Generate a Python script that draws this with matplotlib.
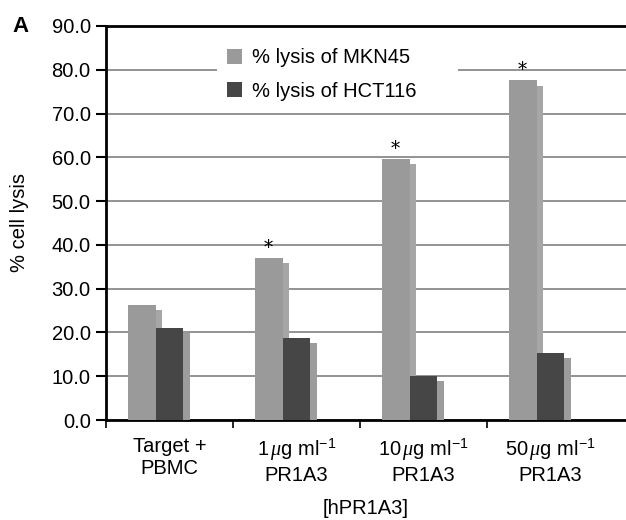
import numpy as np
import matplotlib.pyplot as plt
from matplotlib.patches import Rectangle

# data
categories = ['Target +\nPBMC',
              '1$\\,\\mu$g ml$^{-1}$\nPR1A3',
              '10$\\,\\mu$g ml$^{-1}$\nPR1A3',
              '50$\\,\\mu$g ml$^{-1}$\nPR1A3']
mkn45 = [26.3, 37.0, 59.6, 77.6]
hct116 = [21.0, 18.7, 10.0, 15.3]
significant = [False, True, True, True]

plt.rcParams['font.family'] = ['Liberation Sans', 'DejaVu Sans']
plt.rcParams['mathtext.fontset'] = 'custom'
plt.rcParams['mathtext.rm'] = 'Liberation Sans'
plt.rcParams['mathtext.it'] = 'Liberation Serif:italic'

fs = 14.5

fig = plt.figure(figsize=(6.26, 5.2), dpi=100)
ax = fig.add_axes([106/626, 100/520, 520/626, 394/520])

x = np.arange(len(categories))
w = 0.22
off = 0.17
sh = 0.05    # shadow shift
drop = 1.2   # shadow drop

# MKN45 bars with shadow
ax.bar(x + off + sh, np.array(mkn45) - drop, width=w, align='edge', color='#a6a6a6', zorder=2)
ax.bar(x + off, mkn45, width=w, align='edge', color='#9a9a9a', zorder=3, label='% lysis of MKN45')
# HCT116 bars with shadow
ax.bar(x + off + w + sh, np.array(hct116) - drop, width=w, align='edge', color='#9c9c9c', zorder=4)
ax.bar(x + off + w, hct116, width=w, align='edge', color='#464646', zorder=5, label='% lysis of HCT116')

for i, s in enumerate(significant):
    if s:
        ax.text(x[i] + off + w / 2, mkn45[i] + 0.2, '*', ha='center', va='bottom',
                fontsize=13, family='DejaVu Serif', zorder=6)

ax.set_xlim(0, 520/127)
ax.set_ylim(0, 90)
ax.set_yticks(np.arange(0, 91, 10))
ax.set_yticklabels(['%.1f' % v for v in np.arange(0, 91, 10)], fontsize=fs)
ax.yaxis.grid(True, color='#8a8a8a', linewidth=1.3, zorder=0)
ax.set_axisbelow(True)

ax.set_xticks(x)
ax.set_xticklabels([])
ax.set_xticks(x + 0.5, minor=True)
ax.set_xticklabels(categories, minor=True, fontsize=fs)
ax.tick_params(axis='x', which='minor', length=0, pad=12)
ax.tick_params(axis='x', which='major', length=6, width=1.2, direction='out')
ax.tick_params(axis='y', length=7, width=1.5, direction='out', pad=4)

for side in ['left', 'top', 'bottom']:
    ax.spines[side].set_linewidth(2)
ax.spines['right'].set_visible(False)

ax.set_ylabel('% cell lysis', fontsize=fs)
ax.yaxis.set_label_coords(-0.148, 0.5)
ax.set_xlabel('[hPR1A3]', fontsize=fs)
ax.xaxis.set_label_coords(0.5, -0.2)

# white box behind the legend
ax.add_patch(Rectangle((0.2135, 0.792), 0.4635, 0.178, transform=ax.transAxes,
                       facecolor='white', edgecolor='none', zorder=1))
leg = ax.legend(loc='upper left', bbox_to_anchor=(0.215, 0.966), borderaxespad=0,
                fontsize=fs, frameon=False,
                handlelength=0.75, handleheight=0.75, handletextpad=0.5, labelspacing=0.7,
                borderpad=0.45)
leg.set_zorder(7)

fig.text(12/626, 1 - 26/520, 'A', fontsize=16, fontweight='bold', va='center', ha='left')

fig.savefig('out.png', dpi=100)
